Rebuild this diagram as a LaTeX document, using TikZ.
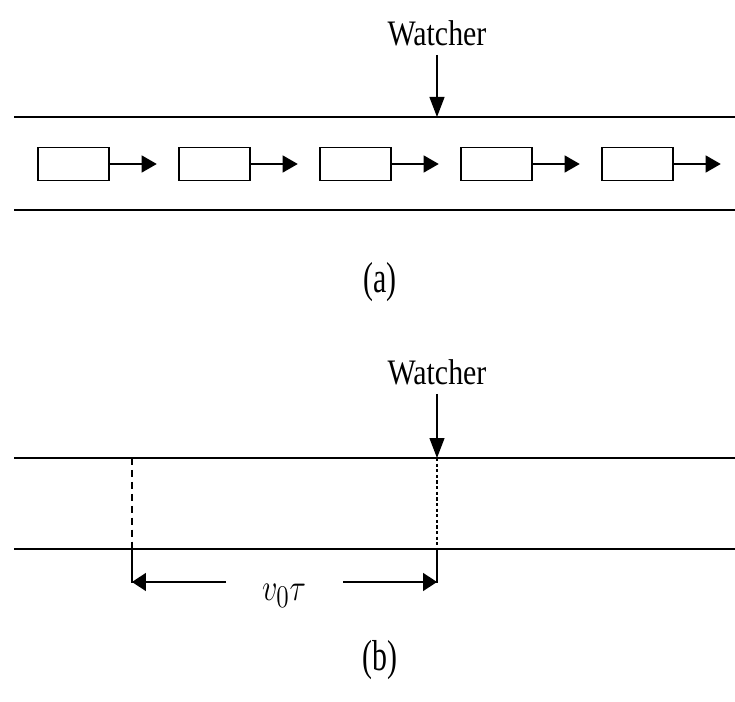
\documentclass[tikz,border=0pt]{standalone}
\usepackage{fontspec}
\setmainfont{Liberation Serif}
\usetikzlibrary{positioning,arrows.meta}

\begin{document}
\begin{tikzpicture}[x=0.02cm,y=-0.02cm,
  road/.style={line width=1.1pt},
  car/.style={draw,line width=1pt,minimum width=1.42cm,minimum height=0.66cm,inner sep=0pt,anchor=west},
  move/.style={line width=0.6pt,-{Triangle[length=0.3cm,width=0.34cm]}},
  watch/.style={line width=0.7pt,shorten <=5pt,-{Triangle[length=0.4cm,width=0.3cm]}},
  dim/.style={line width=0.9pt,-{Triangle[length=0.28cm,width=0.36cm]}},
  lbl/.style={font=\fontsize{17}{20}\selectfont,inner sep=0pt}]
\useasboundingbox (0,0) rectangle (735,702);
% (a) cars moving past the watcher
\draw[road] (14,117) -- (735,117);
\draw[road] (14,210) -- (735,210);
\node[lbl] (wa) at (437,33) {\scalebox{1}[1.2]{Watcher}};
\coordinate (wa-road) at (437,117);
\draw[watch] (wa) -- (wa-road);
\foreach \i in {0,...,4} {
  \node[car] (car\i) at (37+141*\i,164) {};
  \coordinate[right=0.94cm of car\i.east] (head\i);
  \draw[move] (car\i.east) -- (head\i);
}
\node[lbl] (capa) at (380,282) {\scalebox{1}[1.45]{(a)}};
% (b) distance covered in time tau
\draw[road] (14,458) -- (735,458);
\draw[road] (14,549) -- (735,549);
\node[lbl] (wb) at (437,372) {\scalebox{1}[1.2]{Watcher}};
\coordinate (wb-road) at (437,458);
\draw[watch] (wb) -- (wb-road);
\coordinate (s-top) at (132,458);
\coordinate (s-bot) at (132,549);
\coordinate (s-dim) at (132,582);
\coordinate (w-bot) at (437,549);
\coordinate (w-dim) at (437,582);
\draw[line width=1pt,dash pattern=on 4pt off 2.8pt] (s-top) -- (s-bot);
\draw[line width=0.9pt,dash pattern=on 1.8pt off 1.4pt] (wb-road) -- (w-bot);
\draw[line width=1pt] (s-bot) -- ([yshift=-0.5pt]s-dim);
\draw[line width=1pt] (w-bot) -- ([yshift=-0.5pt]w-dim);
\node[lbl,font=\fontsize{19}{22}\selectfont] (dist) at (284,596) {\scalebox{1}[1.25]{$v_0\tau$}};
\coordinate (gap-l) at (226,582);
\coordinate (gap-r) at (343,582);
\draw[dim] (gap-l) -- (s-dim);
\draw[dim] (gap-r) -- (w-dim);
\node[lbl] (capb) at (380,660) {\scalebox{1}[1.45]{(b)}};
\end{tikzpicture}
\end{document}
